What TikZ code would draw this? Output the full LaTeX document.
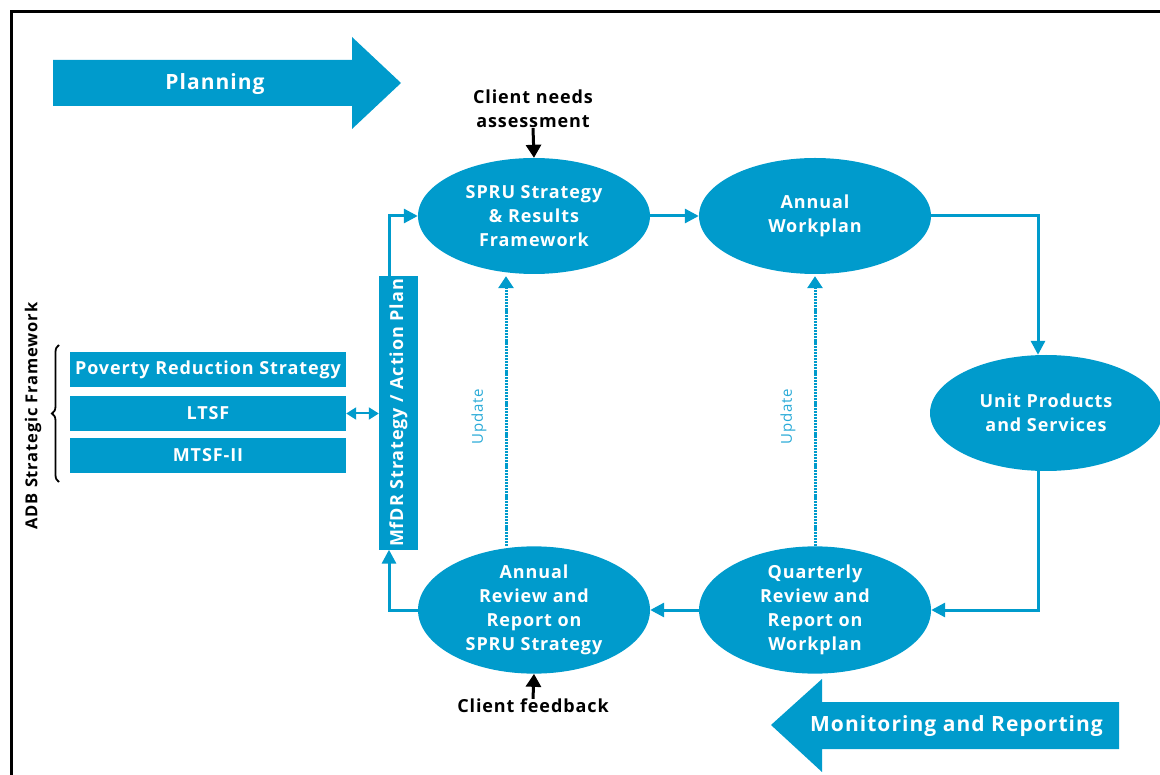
\documentclass[tikz,border=0pt]{standalone}
\usepackage{fontspec}
\setmainfont{Open Sans}[LetterSpace=5]
\usetikzlibrary{shapes.geometric,arrows.meta,decorations.pathreplacing}
\definecolor{adbblue}{RGB}{0,155,204}
\definecolor{updblue}{RGB}{40,170,215}
\begin{document}
\begin{tikzpicture}[x=1pt,y=-1pt,
  stage/.style={ellipse, fill=adbblue, text=white, align=center, inner sep=0pt,
    minimum width=232pt, minimum height=116pt,
    font=\bfseries\fontsize{18}{24}\selectfont},
  fwbox/.style={rectangle, fill=adbblue, text=white, inner sep=0pt,
    minimum width=276pt, minimum height=35pt,
    font=\bfseries\fontsize{18}{22}\selectfont},
  phase/.style={text=white, font=\bfseries\fontsize{21}{26}\selectfont},
  flow/.style={draw=adbblue, line width=3pt, -{Triangle[length=14pt,width=14pt]}},
  updline/.style={draw=adbblue, line width=3pt, dash pattern=on 2.2pt off 0.9pt,
    -{Triangle[length=12pt,width=15pt]}, shorten >=2pt},
  inputarrow/.style={draw=black, line width=3pt, -{Triangle[length=13pt,width=15pt]}},
  blacklabel/.style={text=black, align=center, inner sep=0pt,
    font=\bfseries\fontsize{18}{24}\selectfont},
  updlabel/.style={rotate=90, text=updblue, font=\fontsize{15}{15}\selectfont},
]
\useasboundingbox (0,0) rectangle (1160,775);

% frame (top and left edges)
\draw[line width=2.7pt] (11.3,775) -- (11.3,11.3) -- (1160,11.3);

% phase arrows
\fill[adbblue] (53,60) -- (352,60) -- (352,37) -- (401,83) -- (352,129) -- (352,106) -- (53,106) -- cycle;
\node[phase] (planning) at (215,84) {Planning};
\fill[adbblue] (1119,702) -- (822,702) -- (822,679) -- (771,725) -- (822,772) -- (822,749) -- (1119,749) -- cycle;
\node[phase] (monitoring) at (956.5,726) {Monitoring and Reporting};

% cycle stages
\node[stage] (spru) at (534,216) {SPRU Strategy\\\& Results\\Framework};
\node[stage] (awp) at (815,216) {Annual\\Workplan};
\node[stage] (ups) at (1046,413) {Unit Products\\and Services};
\node[stage] (qrr) at (815,610) {Quarterly\\Review and\\Report on\\Workplan};
\node[stage] (arr) at (534,610) {Annual\\Review and\\Report on\\SPRU Strategy};

% MfDR strategy bar
\node[rectangle, fill=adbblue, text=white, inner sep=0pt, minimum width=39pt, minimum height=273pt,
  font=\bfseries\fontsize{18}{22}\selectfont] (mfdr) at (398.5,413)
  {\rotatebox{90}{MfDR Strategy / Action Plan}};
\coordinate (mfdrin) at ([xshift=-9.5pt]mfdr.south);
\coordinate (mfdrout) at ([xshift=-9.5pt]mfdr.north);

% ADB strategic framework
\node[fwbox] (prs) at (208,370) {Poverty Reduction Strategy};
\node[fwbox] (ltsf) at (208,413.5) {LTSF};
\node[fwbox] (mtsf) at (208,455.5) {MTSF-II};
\draw[decorate, decoration={brace, amplitude=7pt}, line width=1.8pt] (59,482) -- (59,345);
\node[rotate=90, blacklabel, font=\bfseries\fontsize{16.5}{20}\selectfont] (adb) at (33,416) {ADB Strategic Framework};
\draw[draw=adbblue, line width=2pt, {Triangle[length=10pt,width=12pt]}-{Triangle[length=10pt,width=12pt]}]
  (ltsf.east) -- (ltsf.east -| mfdr.west);

% cycle flow
\draw[flow] (mfdrout) |- (spru.west);
\draw[flow] (spru.east) -- (awp.west);
\draw[flow] (awp.east) -| ([xshift=-8pt]ups.north);
\draw[flow] ([xshift=-8pt]ups.south) |- (qrr.east);
\draw[flow] (qrr.west) -- (arr.east);
\draw[flow] (arr.west) -| (mfdrin);

% update loops
\draw[updline] ([xshift=-28pt]arr.north) -- ([xshift=-28pt]spru.south);
\draw[updline] (qrr.north) -- (awp.south);
\node[updlabel] (upd1) at (479,417) {Update};
\node[updlabel] (upd2) at (788,417) {Update};

% client inputs
\node[blacklabel] (cna) at (533,109) {Client needs\\assessment};
\draw[inputarrow] (cna.south) -- (spru.north);
\node[blacklabel] (cfb) at (533,706) {Client feedback};
\draw[inputarrow] (cfb.north) -- (arr.south);
\end{tikzpicture}
\end{document}
